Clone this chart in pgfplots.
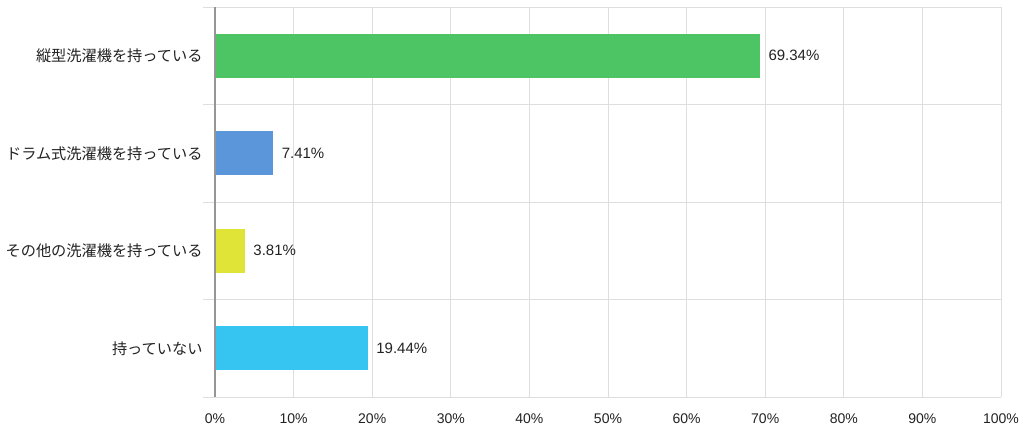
\documentclass[border=0pt]{standalone}
\usepackage{fontspec}
\setmainfont{Liberation Sans}
\newfontfamily\jp{Noto Sans CJK JP}
\usepackage{pgfplots}
\pgfplotsset{compat=1.18}
\definecolor{cgreen}{RGB}{78,197,100}
\definecolor{cblue}{RGB}{92,150,218}
\definecolor{cyellow}{RGB}{224,228,54}
\definecolor{ccyan}{RGB}{53,197,240}
\definecolor{gridc}{RGB}{222,222,222}
\definecolor{axc}{RGB}{150,150,150}
\definecolor{txt}{RGB}{34,34,34}
\begin{document}
\begin{tikzpicture}[x=1pt,y=1pt]
\path[use as bounding box] (0,0) rectangle (1024,432);
\begin{axis}[at={(215pt,35pt)}, anchor=south west, scale only axis,
  width=786pt, height=390pt,
  xbar, bar width=0.45, bar shift=0pt,
  xmin=0, xmax=100, ymin=-0.5, ymax=3.5, y dir=reverse,
  /pgf/number format/assume math mode=true,
  axis line style={draw=none},
  xtick={0,10,...,100},
  xticklabel={\pgfmathprintnumber{\tick}\%},
  ytick={0,1,2,3},
  yticklabels={縦型洗濯機を持っている,ドラム式洗濯機を持っている,その他の洗濯機を持っている,持っていない},
  minor ytick={-0.5,0.5,1.5,2.5,3.5},
  xmajorgrids=true, yminorgrids=true, ymajorgrids=false,
  grid style={draw=gridc, line width=1pt},
  major tick length=0pt, minor tick length=12pt,
  tick align=outside, ytick pos=left, xtick pos=bottom,
  minor tick style={draw=gridc, line width=1pt},
  every tick label/.append style={font=\fontsize{14}{16}\selectfont, text=txt},
  yticklabel style={font=\jp\fontsize{15.2}{17}\selectfont, xshift=-9pt},
  xticklabel style={yshift=-13pt},
  nodes near coords={\pgfmathprintnumber[fixed,fixed zerofill,precision=2]{\pgfplotspointmeta}\%},
  nodes near coords style={font=\fontsize{15}{17}\selectfont, text=txt, anchor=west, xshift=5pt},
  clip=false,
]
\addplot[fill=cgreen, draw=none] coordinates {(69.34,0)};
\addplot[fill=cblue, draw=none] coordinates {(7.41,1)};
\addplot[fill=cyellow, draw=none] coordinates {(3.81,2)};
\addplot[fill=ccyan, draw=none] coordinates {(19.44,3)};
\draw[axc, line width=1.3pt] (axis cs:0,-0.5) -- (axis cs:0,3.5);
\end{axis}
\end{tikzpicture}
\end{document}
